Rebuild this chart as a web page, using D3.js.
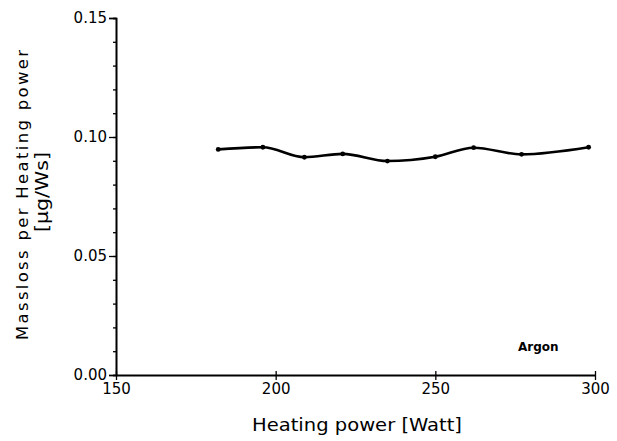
<!DOCTYPE html>
<html>
<head>
<meta charset="utf-8">
<script src="https://cdn.jsdelivr.net/npm/d3@7"></script>
<style>
  html, body { margin: 0; padding: 0; background: #fff; }
  svg { display: block; }
  text { font-family: "DejaVu Sans", sans-serif; fill: #000; }
</style>
</head>
<body>
<svg id="chart" width="617" height="441"></svg>
<script>
// Heating power [W] and mass loss per heating power [µg/Ws], argon
const power = [182, 196, 209, 221, 235, 250, 262, 277, 298];
const massloss = [0.0948, 0.0957, 0.0915, 0.0929, 0.0899, 0.0917, 0.0955, 0.0927, 0.0957];
const xTicks = [150, 200, 250, 300];
const yTicks = [0.00, 0.05, 0.10, 0.15];
const yMinorTicks = d3.range(0, 0.1501, 0.01);
const gasLabel = "Argon";

const svg = d3.select("#chart");
const margin = { left: 116, right: 22, top: 18, bottom: 66 };
const W = 617, H = 441;

const x = d3.scaleLinear().domain([150, 300]).range([margin.left, W - margin.right]);
const y = d3.scaleLinear().domain([0, 0.15]).range([H - margin.bottom, margin.top]);

// y axis with minor ticks
const yAxis = svg.append("g").attr("transform", `translate(${margin.left},0)`);
yAxis.call(d3.axisLeft(y).tickValues(yMinorTicks).tickSize(3).tickFormat(""));
yAxis.append("g").call(d3.axisLeft(y).tickValues(yTicks).tickSize(7).tickPadding(2).tickFormat(d3.format(".2f")));
yAxis.selectAll("path.domain").attr("stroke-width", 1.6);
yAxis.selectAll(".tick line").attr("stroke-width", 1.3);
yAxis.selectAll("text").style("font-size", "15px");

// x axis
const xAxis = svg.append("g").attr("transform", `translate(0,${y(0)})`)
  .call(d3.axisBottom(x).tickValues(xTicks).tickSize(5).tickSizeOuter(0).tickPadding(3).tickFormat(d3.format("d")));
xAxis.select("path.domain").attr("stroke-width", 1.8);
xAxis.selectAll(".tick line").attr("stroke-width", 1.3).attr("y1", -4);
xAxis.selectAll("text").style("font-size", "15px");

// data line
const line = d3.line()
  .x((d, i) => x(power[i]))
  .y(d => y(d))
  .curve(d3.curveMonotoneX);

svg.append("path")
  .datum(massloss)
  .attr("d", line)
  .attr("fill", "none")
  .attr("stroke", "#000")
  .attr("stroke-width", 2.6);

svg.append("g").selectAll("circle")
  .data(massloss)
  .join("circle")
  .attr("cx", (d, i) => x(power[i]))
  .attr("cy", d => y(d))
  .attr("r", 2.4)
  .attr("fill", "#000");

// axis titles
svg.append("text")
  .attr("x", 357).attr("y", 431)
  .attr("text-anchor", "middle")
  .attr("textLength", 210).attr("lengthAdjust", "spacingAndGlyphs")
  .style("font-size", "18px")
  .text("Heating power [Watt]");

const yt = svg.append("g").attr("transform", "translate(28,195) rotate(-90)");
yt.append("text")
  .attr("text-anchor", "middle")
  .attr("textLength", 290).attr("lengthAdjust", "spacing")
  .style("font-size", "16.5px")
  .text("Massloss per Heating power");
yt.append("text")
  .attr("x", 3).attr("y", 20)
  .attr("text-anchor", "middle")
  .attr("textLength", 80).attr("lengthAdjust", "spacingAndGlyphs")
  .style("font-size", "17px")
  .text("[µg/Ws]");

// gas label
svg.append("text")
  .attr("x", 518).attr("y", 351)
  .style("font-size", "12px")
  .style("font-weight", "bold")
  .text(gasLabel);
</script>
</body>
</html>
